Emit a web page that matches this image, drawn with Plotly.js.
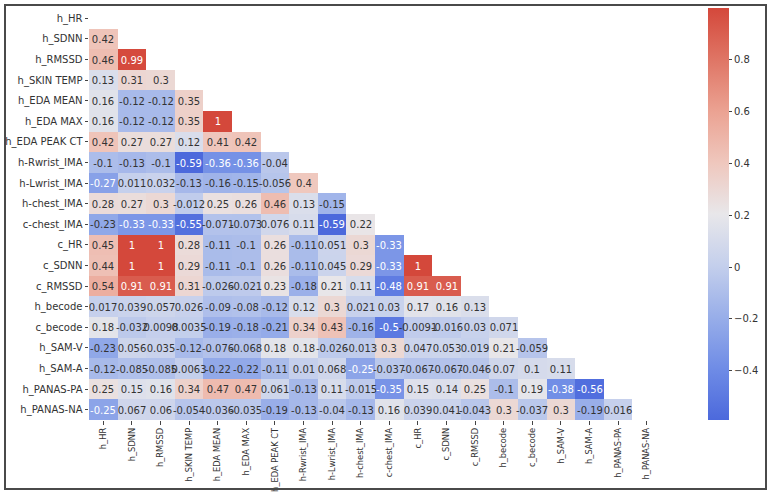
<!DOCTYPE html>
<html><head><meta charset="utf-8">
<script src="https://cdn.plot.ly/plotly-3.0.1.min.js"></script>
<style>body{margin:0;background:#fff}#frame{position:absolute;left:4px;top:4px;width:759px;height:482px;border:2px solid #4a4a4a;pointer-events:none}</style>
</head><body>
<div id="chart" style="width:771px;height:495px;"></div>
<div id="frame"></div>
<script>
const labels = ["h_HR","h_SDNN","h_RMSSD","h_SKIN TEMP","h_EDA MEAN","h_EDA MAX","h_EDA PEAK CT","h-Rwrist_IMA","h-Lwrist_IMA","h-chest_IMA","c-chest_IMA","c_HR","c_SDNN","c_RMSSD","h_becode","c_becode","h_SAM-V","h_SAM-A","h_PANAS-PA","h_PANAS-NA"];
// lower triangle rows (values below the diagonal)
const row_h_HR = [];
const row_h_SDNN = [0.42];
const row_h_RMSSD = [0.46,0.99];
const row_h_SKIN_TEMP = [0.13,0.31,0.3];
const row_h_EDA_MEAN = [0.16,-0.12,-0.12,0.35];
const row_h_EDA_MAX = [0.16,-0.12,-0.12,0.35,1];
const row_h_EDA_PEAK_CT = [0.42,0.27,0.27,0.12,0.41,0.42];
const row_h_Rwrist_IMA = [-0.1,-0.13,-0.1,-0.59,-0.36,-0.36,-0.04];
const row_h_Lwrist_IMA = [-0.27,0.011,0.032,-0.13,-0.16,-0.15,-0.056,0.4];
const row_h_chest_IMA = [0.28,0.27,0.3,-0.012,0.25,0.26,0.46,0.13,-0.15];
const row_c_chest_IMA = [-0.23,-0.33,-0.33,-0.55,-0.071,-0.073,0.076,0.11,-0.59,0.22];
const row_c_HR = [0.45,1,1,0.28,-0.11,-0.1,0.26,-0.11,0.051,0.3,-0.33];
const row_c_SDNN = [0.44,1,1,0.29,-0.11,-0.1,0.26,-0.11,0.045,0.29,-0.33,1];
const row_c_RMSSD = [0.54,0.91,0.91,0.31,-0.026,-0.021,0.23,-0.18,0.21,0.11,-0.48,0.91,0.91];
const row_h_becode = [0.017,0.039,0.057,0.026,-0.09,-0.08,-0.12,0.12,0.3,0.021,0.03,0.17,0.16,0.13];
const row_c_becode = [0.18,-0.032,0.0098,0.0035,-0.19,-0.18,-0.21,0.34,0.43,-0.16,-0.5,-0.0091,-0.016,0.03,0.071];
const row_h_SAM_V = [-0.23,0.056,0.035,-0.12,-0.076,-0.068,0.18,0.18,-0.026,-0.013,0.3,0.047,0.053,0.019,0.21,-0.059];
const row_h_SAM_A = [-0.12,-0.085,-0.085,0.0063,-0.22,-0.22,-0.11,0.01,0.068,-0.25,-0.037,-0.067,-0.067,-0.046,0.07,0.1,0.11];
const row_h_PANAS_PA = [0.25,0.15,0.16,0.34,0.47,0.47,0.061,-0.13,0.11,-0.015,-0.35,0.15,0.14,0.25,-0.1,0.19,-0.38,-0.56];
const row_h_PANAS_NA = [-0.25,0.067,0.06,-0.054,-0.036,-0.035,-0.19,-0.13,-0.04,-0.13,0.16,0.039,0.041,-0.043,0.3,-0.037,0.3,-0.19,0.016];
const colorbarTicks = [-0.4,-0.2,0.0,0.2,0.4,0.6,0.8];

const rows = [row_h_HR,row_h_SDNN,row_h_RMSSD,row_h_SKIN_TEMP,row_h_EDA_MEAN,row_h_EDA_MAX,row_h_EDA_PEAK_CT,row_h_Rwrist_IMA,row_h_Lwrist_IMA,row_h_chest_IMA,row_c_chest_IMA,row_c_HR,row_c_SDNN,row_c_RMSSD,row_h_becode,row_c_becode,row_h_SAM_V,row_h_SAM_A,row_h_PANAS_PA,row_h_PANAS_NA];
const z = rows.map(r => labels.map((_, j) => j < r.length ? r[j] : null));
const isLight = v => v !== null && (v >= 0.9 || v <= -0.25);
const textDark = z.map(r => r.map(v => (v === null || isLight(v)) ? '' : String(v)));
const textLight = z.map(r => r.map(v => isLight(v) ? String(v) : ''));

// softened coolwarm as seen in the reference
const cw = [
 [0.0,'#4c69dc'],[0.125,'#6f8ce6'],[0.25,'#98aee9'],[0.375,'#c4cfec'],[0.5,'#e8e7ea'],
 [0.625,'#efc7bd'],[0.75,'#eba292'],[0.875,'#df7565'],[1.0,'#d4483b']
];

const zmin = -0.59, zmax = 1;
const traces = [
 {type:'heatmap', x:labels, y:labels, z:z, zmin:zmin, zmax:zmax, colorscale:cw, hoverongaps:false,
  text:textDark, texttemplate:'%{text}', textfont:{family:'DejaVu Sans', size:10, color:'#333333'},
  colorbar:{x:1.082, xanchor:'left', xpad:0, ypad:0, y:0, yanchor:'bottom', len:1, lenmode:'fraction', thickness:21, outlinewidth:0,
   tickvals:colorbarTicks, ticks:'outside', ticklen:3.5, tickcolor:'#444', tickfont:{family:'DejaVu Sans', size:10, color:'#333'}}},
 {type:'heatmap', x:labels, y:labels, z:z, zmin:zmin, zmax:zmax, colorscale:[[0,'rgba(0,0,0,0)'],[1,'rgba(0,0,0,0)']], showscale:false, hoverinfo:'skip',
  text:textLight, texttemplate:'%{text}', textfont:{family:'DejaVu Sans', size:10, color:'#ffffff'}}
];
const layout = {
 width:771, height:495, margin:{l:89, r:110, t:8, b:75},
 paper_bgcolor:'#fff', plot_bgcolor:'#fff',
 font:{family:'DejaVu Sans', size:10, color:'#333'},
 xaxis:{type:'category', tickangle:-90, ticks:'outside', ticklen:3.5, tickcolor:'#444', showgrid:false, zeroline:false, tickfont:{size:8.3}},
 yaxis:{type:'category', autorange:'reversed', ticks:'outside', ticklen:3.5, tickcolor:'#444', showgrid:false, zeroline:false, tickfont:{size:10}}
};
Plotly.newPlot('chart', traces, layout, {displayModeBar:false});
</script>
</body></html>
